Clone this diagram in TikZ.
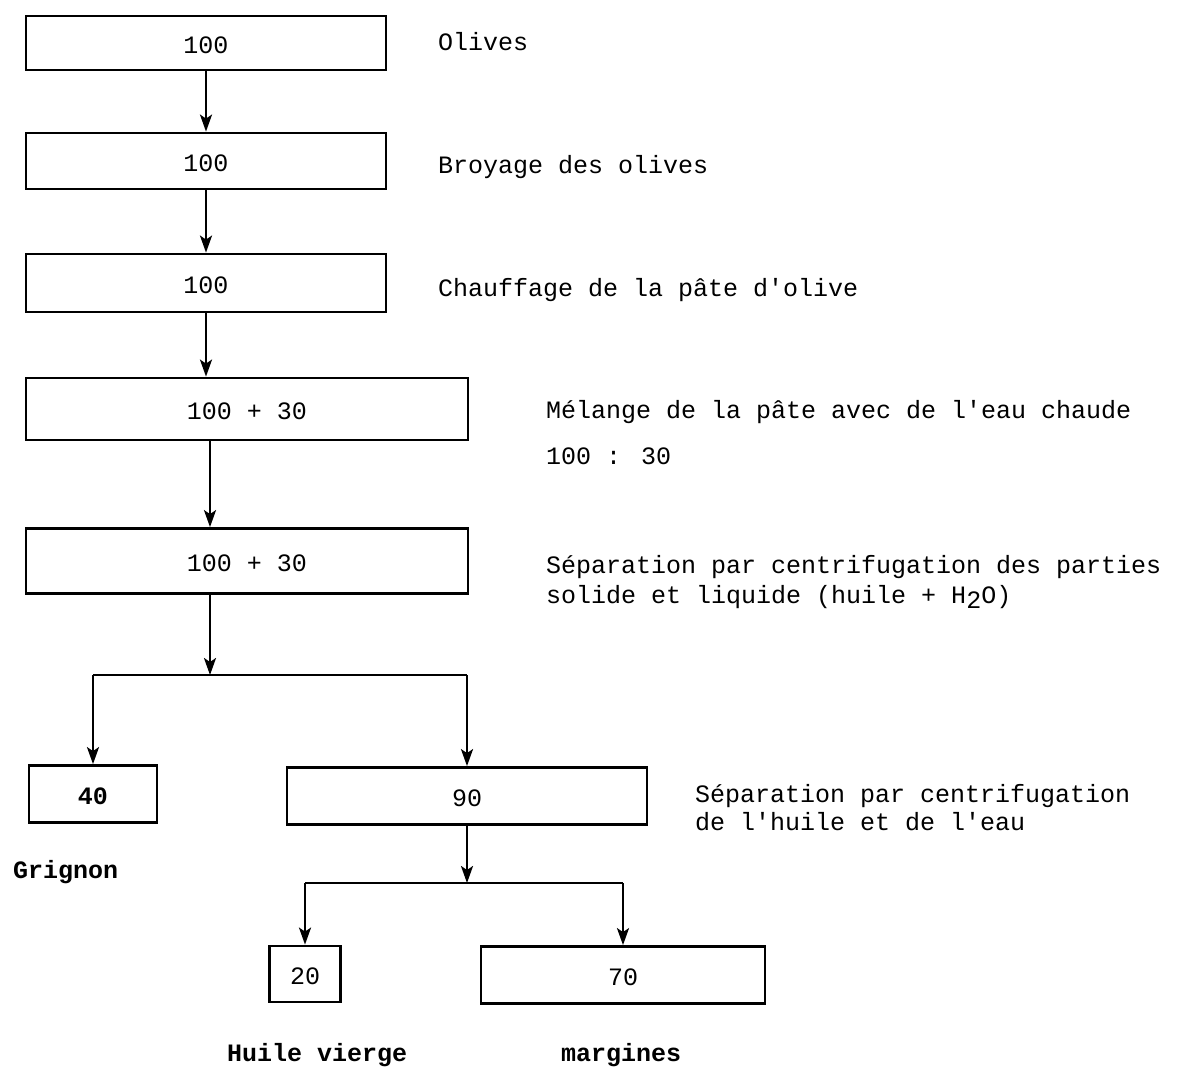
\documentclass[tikz,border=0pt]{standalone}
\usepackage{fontspec}
\setmainfont{Liberation Mono}
\setmonofont{Liberation Mono}
\usetikzlibrary{arrows.meta}
\newcommand{\apo}{\textquotesingle}
\begin{document}
\begin{tikzpicture}[x=1pt,y=-1pt,
  txt/.style={font=\fontsize{25}{30}\selectfont, text height=18pt, text depth=5pt},
  box/.style={txt, draw, line width=2.8pt, inner sep=0pt, text height=22pt, text depth=1pt},
  lbl/.style={txt, anchor=west, inner sep=0pt},
  arr/.style={line width=2.4pt, -{Stealth[length=17pt,width=12pt,inset=4pt]}},
  ln/.style={line width=2.4pt}]
\useasboundingbox[fill=white] (0,0) rectangle (1177,1070);

% boxes
\node[box, minimum width=360pt, minimum height=54pt] (b1) at (206,43) {100};
\node[box, minimum width=360pt, minimum height=56pt] (b2) at (206,161) {100};
\node[box, minimum width=360pt, minimum height=58pt] (b3) at (206,283) {100};
\node[box, minimum width=442pt, minimum height=62pt] (b4) at (247,409) {100 + 30};
\node[box, minimum width=442pt, minimum height=65pt] (b5) at (247,561) {100 + 30};
\node[box, minimum width=128pt, minimum height=57pt, font=\fontsize{25}{30}\selectfont\bfseries] (b40) at (93,794) {40};
\node[box, minimum width=360pt, minimum height=57pt] (b90) at (467,796) {90};
\node[box, minimum width=71pt, minimum height=56pt] (b20) at (305,974) {20};
\node[box, minimum width=284pt, minimum height=57pt] (b70) at (623,975) {70};

\coordinate (j1) at (210,675);
\coordinate (j2) at (467,883);

% labels
\node[lbl] (l1) at (438,44) {Olives};
\node[lbl] (l2) at (438,167) {Broyage des olives};
\node[lbl] (l3) at (438,290) {Chauffage de la pâte d\apo olive};
\node[lbl] (l4) at (546,412) {Mélange de la pâte avec de l\apo eau chaude};
\node[lbl] (l4b) at (546,458) {100 : 30};
\node[lbl] (l5) at (546,567) {Séparation par centrifugation des parties};
\node[lbl] (l5b) at (546,597) {solide et liquide (huile + H\raisebox{-0.35ex}{2}O)};
\node[lbl] (l6) at (695,796) {Séparation par centrifugation};
\node[lbl] (l6b) at (695,824) {de l\apo huile et de l\apo eau};
\node[lbl, font=\fontsize{25}{30}\selectfont\bfseries] (lg) at (13,872) {Grignon};
\node[lbl, font=\fontsize{25}{30}\selectfont\bfseries] (lh) at (227,1055) {Huile vierge};
\node[lbl, font=\fontsize{25}{30}\selectfont\bfseries] (lm) at (561,1055) {margines};

% connectors
\draw[arr] (b1.south) -- (b2.north);
\draw[arr] (b2.south) -- (b3.north);
\draw[arr] (b3.south) -- (b3.south |- b4.north);
\draw[arr] (b4.south -| j1) -- (b5.north -| j1);
\draw[arr] (b5.south -| j1) -- (j1);
\draw[ln] (b40.north |- j1) -- (b90.north |- j1);
\draw[arr] (b40.north |- j1) -- (b40.north);
\draw[arr] (b90.north |- j1) -- (b90.north);
\draw[arr] (b90.south) -- (j2);
\draw[ln] (b20.north |- j2) -- (b70.north |- j2);
\draw[arr] (b20.north |- j2) -- (b20.north);
\draw[arr] (b70.north |- j2) -- (b70.north);
\end{tikzpicture}
\end{document}
